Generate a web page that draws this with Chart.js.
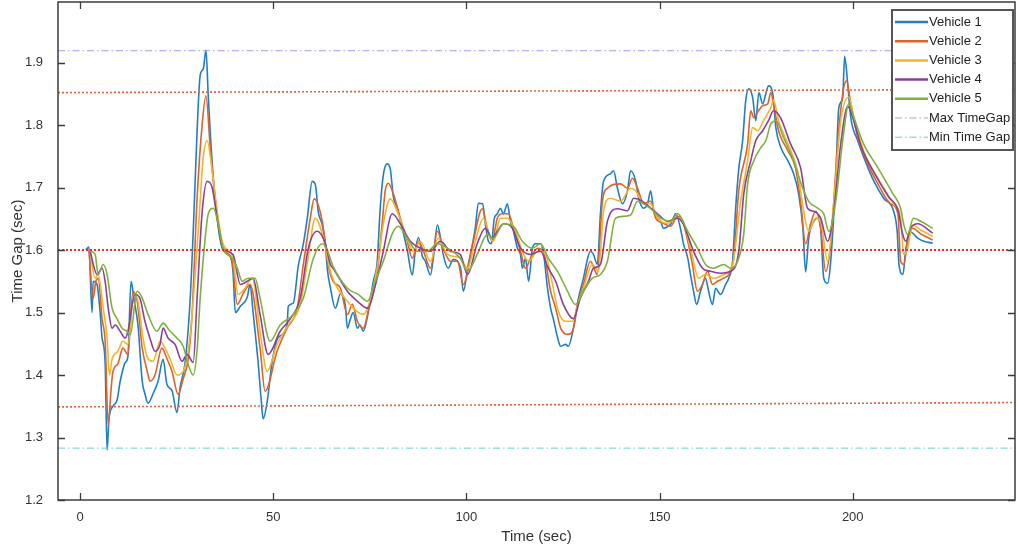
<!DOCTYPE html>
<html>
<head>
<meta charset="utf-8">
<script src="https://cdn.jsdelivr.net/npm/chart.js@4"></script>
<style>
  html, body { margin: 0; padding: 0; background: #fff; }
</style>
</head>
<body>
<canvas id="gapChart" width="1018" height="552"></canvas>
<script>
// time (sec) and time gap (sec), one pair of arrays per vehicle
const time1 = [1.5,2.3,3.1,3.4,4.4,5.2,5.7,6.5,7.0,7.5,8.5,9.6,10.4,11.7,12.4,13.2,14.0,15.0,16.1,16.8,17.6,18.9,20.2,21.5,22.5,23.8,25.1,25.9,27.2,28.5,29.3,30.3,31.1,31.9,32.6,33.2,34.2,35.5,37.0,38.9,39.6,40.2,41.5,43.3,44.0,44.8,46.1,46.9,47.4,48.5,49.7,51.3,53.6,53.9,55.2,56.5,57.8,58.8,60.1,60.9,61.7,62.7,63.5,64.0,64.8,66.1,67.4,68.7,69.2,70.0,70.7,71.8,72.5,73.3,74.6,75.9,76.9,77.7,78.5,79.5,80.3,81.1,82.1,83.4,84.7,86.0,86.8,87.6,88.6,89.4,90.7,91.5,92.5,93.3,94.0,95.3,96.6,98.5,99.2,100.5,101.6,102.3,103.1,104.2,104.9,105.7,106.5,107.2,108.0,108.8,109.6,110.6,111.4,112.2,113.2,114.0,114.5,115.3,116.1,117.1,117.9,119.2,120.0,121.0,121.8,122.5,123.6,124.4,125.7,126.4,127.7,129.0,130.3,131.4,132.1,132.9,133.9,134.7,135.5,137.3,138.1,139.1,140.4,141.7,142.5,143.8,144.6,145.9,146.9,147.7,148.5,149.5,150.3,151.0,152.9,154.2,155.4,156.2,157.3,158.0,158.8,159.6,160.6,161.9,162.7,163.7,164.5,165.8,167.1,167.9,168.9,169.7,170.5,171.5,172.3,173.1,174.1,174.9,175.7,176.7,177.5,178.2,179.3,180.1,181.4,183.2,184.7,186.0,187.1,187.8,188.6,189.9,190.9,191.7,192.5,193.5,194.3,195.6,196.4,197.4,197.9,198.7,199.5,201.3,202.9,205.4,208.0,210.6,211.5,212.0,213.0,213.7,215.0,216.8,218.4,220.7];
const gap1 = [1.60,1.605,1.50,1.55,1.545,1.50,1.46,1.42,1.28,1.33,1.35,1.36,1.39,1.42,1.43,1.55,1.52,1.48,1.39,1.37,1.355,1.37,1.39,1.425,1.385,1.375,1.34,1.38,1.42,1.52,1.63,1.79,1.88,1.89,1.92,1.845,1.74,1.65,1.60,1.59,1.565,1.50,1.51,1.525,1.545,1.50,1.42,1.36,1.33,1.36,1.42,1.46,1.48,1.51,1.515,1.575,1.61,1.65,1.71,1.705,1.66,1.64,1.61,1.57,1.54,1.507,1.53,1.51,1.475,1.49,1.50,1.475,1.48,1.47,1.50,1.55,1.58,1.667,1.72,1.738,1.73,1.685,1.667,1.635,1.60,1.56,1.60,1.62,1.59,1.582,1.56,1.59,1.64,1.62,1.593,1.571,1.585,1.571,1.534,1.577,1.61,1.635,1.675,1.674,1.642,1.614,1.61,1.65,1.658,1.667,1.658,1.674,1.646,1.63,1.603,1.593,1.571,1.587,1.55,1.603,1.61,1.61,1.593,1.539,1.507,1.49,1.46,1.446,1.449,1.446,1.475,1.523,1.555,1.587,1.598,1.593,1.577,1.658,1.71,1.722,1.727,1.699,1.674,1.695,1.727,1.711,1.683,1.667,1.674,1.695,1.662,1.651,1.646,1.635,1.642,1.658,1.635,1.61,1.587,1.561,1.534,1.513,1.534,1.555,1.534,1.513,1.539,1.529,1.545,1.555,1.582,1.667,1.73,1.775,1.839,1.858,1.844,1.807,1.852,1.834,1.85,1.863,1.85,1.796,1.764,1.743,1.722,1.69,1.635,1.565,1.619,1.646,1.651,1.635,1.555,1.547,1.582,1.715,1.828,1.844,1.91,1.866,1.812,1.775,1.748,1.711,1.683,1.662,1.63,1.575,1.561,1.60,1.629,1.619,1.614,1.611];

const time2 = [2.3,3.4,4.1,4.7,5.7,6.5,7.3,8.0,8.5,9.8,11.1,12.4,13.7,14.8,16.1,17.4,18.1,19.4,21.2,22.5,23.8,25.4,26.7,28.0,29.0,30.3,31.6,32.6,33.7,35.0,37.0,39.4,40.7,42.2,44.0,46.6,47.9,51.0,53.6,56.2,57.8,59.6,60.6,62.7,64.2,65.5,67.4,69.2,70.5,71.8,73.3,75.1,76.9,78.2,79.0,79.8,81.1,82.9,84.7,86.0,87.6,88.9,90.7,92.5,94.0,95.9,97.7,99.2,101.8,104.1,105.4,106.7,108.0,109.3,110.9,112.2,114.0,115.3,116.6,118.4,119.9,121.8,123.1,124.4,126.2,127.5,128.8,130.3,132.1,133.9,135.2,136.5,139.9,141.7,143.0,144.3,145.9,147.7,149.0,151.0,152.8,154.7,156.0,157.3,158.5,159.8,161.1,162.4,163.7,165.0,166.6,167.9,169.2,170.5,172.8,173.6,174.4,175.6,176.7,178.0,178.8,179.5,180.8,183.2,185.2,186.5,187.8,189.1,190.4,191.7,193.0,194.3,196.1,197.4,198.4,199.5,201.3,203.9,206.5,209.8,211.7,212.4,213.2,214.2,215.5,217.6,220.7];
const gap2 = [1.60,1.523,1.55,1.555,1.49,1.454,1.32,1.374,1.405,1.418,1.443,1.433,1.534,1.518,1.443,1.406,1.39,1.40,1.443,1.426,1.406,1.369,1.394,1.426,1.497,1.683,1.80,1.847,1.764,1.683,1.603,1.582,1.513,1.53,1.545,1.443,1.374,1.438,1.475,1.507,1.577,1.651,1.682,1.646,1.577,1.55,1.539,1.497,1.513,1.486,1.475,1.518,1.561,1.642,1.695,1.707,1.69,1.651,1.614,1.587,1.614,1.598,1.571,1.63,1.603,1.582,1.582,1.545,1.614,1.666,1.635,1.614,1.651,1.658,1.658,1.635,1.598,1.571,1.587,1.603,1.598,1.534,1.507,1.475,1.465,1.47,1.513,1.545,1.582,1.561,1.678,1.699,1.706,1.699,1.715,1.699,1.674,1.678,1.651,1.643,1.638,1.654,1.646,1.614,1.577,1.534,1.545,1.566,1.545,1.55,1.555,1.561,1.587,1.695,1.77,1.823,1.812,1.823,1.831,1.834,1.852,1.834,1.791,1.759,1.731,1.678,1.61,1.642,1.662,1.635,1.566,1.61,1.77,1.85,1.871,1.834,1.78,1.738,1.706,1.674,1.658,1.582,1.577,1.614,1.635,1.626,1.616];

const time3 = [2.6,3.9,4.7,6.0,7.0,7.6,8.3,9.8,11.1,12.4,14.0,15.0,16.3,17.6,18.9,20.7,22.0,23.3,25.1,26.7,28.0,29.0,30.6,31.9,32.9,34.2,35.5,37.0,39.6,40.9,42.7,44.6,46.6,48.4,51.0,53.9,57.0,58.8,60.9,63.0,64.8,69.2,73.3,76.9,78.5,80.3,82.1,84.2,86.3,88.1,90.7,92.7,95.1,98.4,100.3,102.3,104.4,106.2,107.0,108.8,110.6,112.7,114.8,116.1,118.4,120.5,122.3,123.8,125.6,127.5,128.8,130.3,132.6,134.2,135.5,137.3,139.9,142.5,143.8,145.9,147.7,149.5,152.1,154.7,156.0,158.0,160.1,161.9,164.0,166.6,168.9,171.0,172.8,174.1,175.4,176.9,178.8,179.5,180.8,183.2,185.7,187.0,188.6,190.4,191.7,193.5,195.1,196.9,199.0,200.3,202.8,206.5,210.6,212.4,213.2,214.2,215.5,217.6,220.7];
const gap3 = [1.598,1.555,1.561,1.507,1.46,1.40,1.426,1.438,1.454,1.449,1.53,1.518,1.459,1.426,1.422,1.454,1.443,1.426,1.40,1.406,1.438,1.497,1.63,1.748,1.775,1.727,1.662,1.61,1.587,1.529,1.539,1.555,1.47,1.406,1.449,1.48,1.513,1.577,1.651,1.619,1.566,1.518,1.497,1.571,1.642,1.682,1.662,1.626,1.598,1.614,1.582,1.619,1.593,1.587,1.571,1.614,1.651,1.619,1.614,1.651,1.651,1.63,1.593,1.582,1.598,1.593,1.545,1.502,1.486,1.486,1.513,1.539,1.577,1.566,1.662,1.683,1.678,1.699,1.695,1.674,1.674,1.651,1.643,1.651,1.646,1.603,1.555,1.561,1.555,1.561,1.577,1.678,1.743,1.796,1.791,1.807,1.828,1.84,1.807,1.77,1.727,1.674,1.63,1.651,1.646,1.582,1.678,1.807,1.845,1.812,1.759,1.715,1.674,1.651,1.593,1.603,1.64,1.632,1.622];

const time4 = [2.6,4.4,5.7,6.5,7.3,8.3,9.1,10.4,11.7,12.4,14.2,15.5,16.8,18.1,19.4,20.7,21.5,22.8,24.6,26.4,27.7,29.3,30.3,31.6,32.9,34.2,35.5,37.0,39.6,41.5,43.3,44.8,46.6,48.7,51.8,54.4,57.0,59.1,61.4,63.5,64.8,65.5,69.2,71.8,74.4,76.9,78.5,80.8,82.9,85.5,88.1,90.7,93.3,95.9,98.4,100.3,102.8,104.9,106.7,108.0,109.6,111.9,114.0,116.6,119.2,121.2,123.1,125.1,127.7,129.5,131.6,132.9,134.7,136.5,139.1,141.7,143.3,145.6,147.7,149.5,152.1,154.7,156.2,158.8,161.1,163.2,165.8,168.4,170.5,171.8,173.6,174.9,176.7,178.2,179.5,181.3,183.9,186.5,188.3,189.9,191.7,193.5,195.1,196.9,198.7,200.0,202.3,205.7,209.3,211.7,212.9,213.7,215.0,216.8,220.7];
const gap4 = [1.598,1.561,1.571,1.55,1.507,1.475,1.48,1.47,1.459,1.47,1.529,1.523,1.486,1.459,1.438,1.449,1.475,1.459,1.449,1.422,1.433,1.42,1.523,1.66,1.71,1.70,1.651,1.603,1.593,1.545,1.55,1.555,1.497,1.433,1.47,1.49,1.523,1.603,1.63,1.61,1.577,1.571,1.534,1.518,1.507,1.555,1.598,1.658,1.642,1.614,1.603,1.598,1.614,1.598,1.593,1.561,1.61,1.635,1.619,1.63,1.642,1.635,1.603,1.593,1.598,1.571,1.55,1.513,1.49,1.523,1.55,1.571,1.577,1.646,1.666,1.663,1.683,1.678,1.667,1.658,1.646,1.651,1.641,1.598,1.571,1.566,1.563,1.566,1.598,1.69,1.743,1.775,1.791,1.807,1.823,1.812,1.77,1.732,1.667,1.662,1.651,1.614,1.662,1.77,1.83,1.812,1.764,1.722,1.685,1.664,1.626,1.614,1.635,1.642,1.627];

const time5 = [2.6,3.9,4.7,6.0,7.0,8.3,9.6,10.9,12.2,13.0,14.8,16.1,17.6,19.9,21.5,23.3,25.1,26.7,28.0,29.3,30.3,31.1,32.4,33.2,34.5,35.8,37.0,39.4,40.7,42.0,43.5,45.3,46.6,49.2,51.8,55.2,57.8,60.4,62.7,64.0,65.5,69.2,72.0,74.4,76.4,78.5,80.8,82.4,84.7,87.3,89.9,92.5,95.1,98.4,100.3,102.8,105.4,107.0,109.6,112.2,114.5,117.1,119.2,121.2,123.6,126.2,128.2,130.3,132.6,134.7,136.5,138.6,140.7,142.5,144.3,145.9,148.5,150.3,152.8,154.7,157.3,159.8,161.9,164.0,166.6,168.4,170.2,171.8,172.8,174.4,176.2,177.5,178.8,180.1,182.1,184.7,187.0,188.6,190.9,192.5,193.8,195.6,197.4,199.0,200.3,202.8,206.5,210.4,212.4,213.2,214.2,215.7,217.6,220.7];
const gap5 = [1.598,1.593,1.561,1.577,1.561,1.507,1.49,1.475,1.47,1.465,1.534,1.523,1.497,1.47,1.483,1.47,1.459,1.446,1.417,1.40,1.44,1.523,1.619,1.658,1.667,1.641,1.603,1.587,1.571,1.55,1.555,1.555,1.523,1.454,1.48,1.497,1.523,1.587,1.61,1.60,1.574,1.539,1.529,1.518,1.55,1.582,1.626,1.638,1.619,1.598,1.598,1.61,1.603,1.587,1.566,1.593,1.625,1.619,1.642,1.638,1.614,1.603,1.61,1.587,1.566,1.534,1.513,1.534,1.555,1.561,1.582,1.651,1.654,1.656,1.678,1.674,1.662,1.651,1.646,1.658,1.63,1.603,1.577,1.571,1.577,1.571,1.582,1.626,1.706,1.743,1.764,1.775,1.802,1.807,1.78,1.743,1.70,1.678,1.667,1.658,1.63,1.678,1.775,1.834,1.812,1.77,1.732,1.69,1.667,1.641,1.625,1.651,1.646,1.635];

// reference levels
const maxTimeGap = 1.919;
const minTimeGap = 1.283;
const targetGap = 1.6;
const upperBand = [1.852, 1.857];   // left end, right end
const lowerBand = [1.349, 1.356];

const xRange = [-5.7, 242];
const yRange = [1.2, 1.997];
const xTickValues = [0, 50, 100, 150, 200];
const yTickValues = [1.2, 1.3, 1.4, 1.5, 1.6, 1.7, 1.8, 1.9];

const vehicleLabels = ['Vehicle 1', 'Vehicle 2', 'Vehicle 3', 'Vehicle 4', 'Vehicle 5'];
const vehicleColors = ['#1f7fc6', '#e0612c', '#f0b52c', '#8a3f9c', '#7db23e'];
const vehicleTimes = [time1, time2, time3, time4, time5];
const vehicleGaps = [gap1, gap2, gap3, gap4, gap5];

const toPoints = (ts, vs) => ts.map((t, i) => ({ x: t, y: vs[i] }));
const flat = (a, b) => [{ x: xRange[0], y: a }, { x: xRange[1], y: b }];

const datasets = vehicleLabels.map((name, i) => ({
    label: name,
    data: toPoints(vehicleTimes[i], vehicleGaps[i]),
    borderColor: vehicleColors[i],
    borderWidth: 1.6,
    cubicInterpolationMode: 'monotone',
    inLegend: true,
    order: 5 - i
}));
datasets.push(
    { label: 'Max TimeGap', data: flat(maxTimeGap, maxTimeGap), borderColor: '#9f9ff2', borderWidth: 1, borderDash: [7, 3, 1.5, 3], inLegend: true, order: 0 },
    { label: 'Min Time Gap', data: flat(minTimeGap, minTimeGap), borderColor: '#63d2d6', borderWidth: 1, borderDash: [7, 3, 1.5, 3], inLegend: true, order: 0 },
    { label: 'upper', data: flat(upperBand[0], upperBand[1]), borderColor: '#e8613c', borderWidth: 1.6, borderDash: [2, 2], order: 0 },
    { label: 'target', data: flat(targetGap, targetGap), borderColor: '#ff2222', borderWidth: 2, borderDash: [2, 2], order: 0 },
    { label: 'lower', data: flat(lowerBand[0], lowerBand[1]), borderColor: '#e8613c', borderWidth: 1.6, borderDash: [2, 2], order: 0 }
);

// MATLAB-style box, inward ticks and legend inside the axes
const frame = {
    id: 'frame',
    afterDraw(chart) {
        const { ctx, chartArea: a, scales: { x, y } } = chart;
        ctx.save();
        ctx.strokeStyle = '#3c3c3c';
        ctx.lineWidth = 1.5;
        ctx.strokeRect(a.left, a.top, a.right - a.left, a.bottom - a.top);

        ctx.lineWidth = 1.3;
        ctx.beginPath();
        x.ticks.forEach(t => {
            const px = Math.round(x.getPixelForValue(t.value)) + 0.5;
            ctx.moveTo(px, a.bottom); ctx.lineTo(px, a.bottom - 7);
            ctx.moveTo(px, a.top); ctx.lineTo(px, a.top + 7);
        });
        y.ticks.forEach(t => {
            const py = Math.round(y.getPixelForValue(t.value)) + 0.5;
            ctx.moveTo(a.left, py); ctx.lineTo(a.left + 7, py);
            ctx.moveTo(a.right, py); ctx.lineTo(a.right - 7, py);
        });
        ctx.stroke();

        const entries = chart.data.datasets.filter(d => d.inLegend);
        const bx = a.right - 123, by = a.top + 8, bw = 121, bh = 140;
        ctx.fillStyle = '#ffffff';
        ctx.fillRect(bx, by, bw, bh);
        ctx.strokeStyle = '#555555';
        ctx.lineWidth = 2;
        ctx.strokeRect(bx, by, bw, bh);
        ctx.font = '13px "Liberation Sans", Arial, sans-serif';
        ctx.textBaseline = 'middle';
        entries.forEach((d, i) => {
            const ry = by + 12 + i * 19.2;
            ctx.strokeStyle = d.borderColor;
            ctx.lineWidth = d.borderDash ? 1 : 2.5;
            ctx.setLineDash(d.borderDash || []);
            ctx.beginPath();
            ctx.moveTo(bx + 3, ry); ctx.lineTo(bx + 36, ry);
            ctx.stroke();
            ctx.setLineDash([]);
            ctx.fillStyle = '#222222';
            ctx.fillText(d.label, bx + 37, ry);
        });
        ctx.restore();
    }
};

const tickFont = { family: '"Liberation Sans", Arial, sans-serif', size: 13 };
const titleFont = { family: '"Liberation Sans", Arial, sans-serif', size: 15 };

new Chart(document.getElementById('gapChart'), {
    type: 'line',
    data: { datasets: datasets },
    options: {
        responsive: false,
        animation: false,
        layout: { padding: { top: 2, right: 3, left: 0, bottom: 0 } },
        elements: { point: { radius: 0 } },
        plugins: {
            legend: { display: false },
            tooltip: { enabled: false }
        },
        scales: {
            x: {
                type: 'linear',
                min: xRange[0],
                max: xRange[1],
                grid: { display: false, drawTicks: false },
                border: { display: false },
                afterBuildTicks(scale) { scale.ticks = xTickValues.map(v => ({ value: v })); },
                ticks: { padding: 10, color: '#333', font: tickFont },
                title: {
                    display: true,
                    text: 'Time (sec)',
                    color: '#333',
                    font: titleFont,
                    padding: { top: 0, bottom: 6 }
                },
                afterFit(scale) {
                    scale.height = 52;
                    scale.paddingLeft = 0;
                    scale.paddingRight = 0;
                }
            },
            y: {
                min: yRange[0],
                max: yRange[1],
                grid: { display: false, drawTicks: false },
                border: { display: false },
                afterBuildTicks(scale) { scale.ticks = yTickValues.map(v => ({ value: v })); },
                ticks: {
                    padding: 15,
                    color: '#333',
                    font: tickFont,
                    callback: v => v.toFixed(1)
                },
                title: {
                    display: true,
                    text: 'Time Gap (sec)',
                    color: '#333',
                    font: titleFont,
                    padding: { top: 9, bottom: 0 }
                },
                afterFit(scale) {
                    scale.width = 58;
                    scale.paddingTop = 0;
                    scale.paddingBottom = 0;
                }
            }
        }
    },
    plugins: [frame]
});
</script>
</body>
</html>
